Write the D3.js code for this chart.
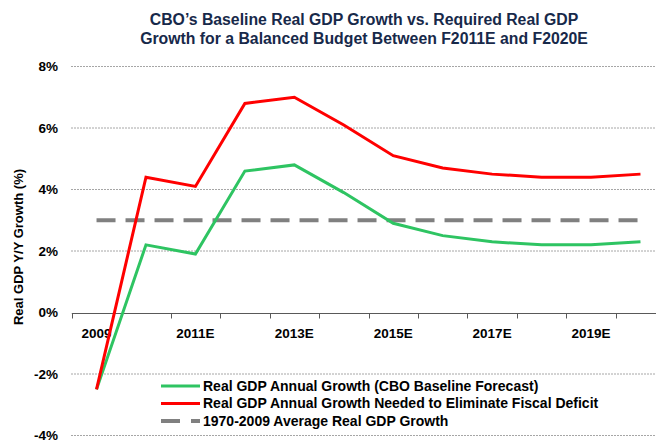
<!DOCTYPE html>
<meta charset="utf-8">
<script src="https://d3js.org/d3.v7.min.js"></script>
<style>
  body { margin: 0; background: #fff; }
  text { font-family: "Liberation Sans", Arial, sans-serif; font-weight: bold; }
</style>
<div id="my_chart"></div>
<script>
// data
var years = ["2009", "2010E", "2011E", "2012E", "2013E", "2014E", "2015E", "2016E", "2017E", "2018E", "2019E", "2020E"];
var cboGrowth = [-2.5, 2.2, 1.9, 4.6, 4.8, 3.9, 2.9, 2.5, 2.3, 2.2, 2.2, 2.3];
var neededGrowth = [-2.5, 4.4, 4.1, 6.8, 7.0, 6.1, 5.1, 4.7, 4.5, 4.4, 4.4, 4.5];
var avgGrowth = 3.0;
var yTicks = [-4, -2, 0, 2, 4, 6, 8];
var xLabels = ["2009", "2011E", "2013E", "2015E", "2017E", "2019E"];
var legendLabels = [
    "Real GDP Annual Growth (CBO Baseline Forecast)",
    "Real GDP Annual Growth Needed to Eliminate Fiscal Deficit",
    "1970-2009 Average Real GDP Growth"
];

var width = 656, height = 441;
var svg = d3.select("#my_chart").append("svg")
    .attr("width", width)
    .attr("height", height);

// scales
var x = d3.scaleBand().domain(years).range([71.8, 665.2]);
var y = d3.scaleLinear().domain([-4, 8]).range([435.5, 66.5]);
var cx = function(d) { return x(d) + x.bandwidth() / 2; };

// title
svg.append("text")
    .attr("x", 364).attr("y", 25)
    .attr("text-anchor", "middle")
    .style("font-size", "15.8px")
    .style("fill", "#17294a")
    .selectAll("tspan")
    .data(["CBO\u2019s Baseline Real GDP Growth vs. Required Real GDP",
           "Growth for a Balanced Budget Between F2011E and F2020E"])
    .join("tspan")
    .attr("x", 364)
    .attr("dy", function(d, i) { return i ? 19 : 0; })
    .text(function(d) { return d; });

// gridlines
svg.append("g")
    .selectAll("line")
    .data(yTicks.filter(function(d) { return d !== 0; }))
    .join("line")
    .attr("x1", 71).attr("x2", width)
    .attr("y1", function(d) { return y(d); })
    .attr("y2", function(d) { return y(d); })
    .attr("stroke", "#a6a6a6")
    .attr("stroke-width", 1)
    .attr("stroke-dasharray", "2,1");

// y axis labels
svg.append("g")
    .selectAll("text")
    .data(yTicks)
    .join("text")
    .attr("x", 58)
    .attr("y", function(d) { return y(d); })
    .attr("dy", "0.35em")
    .attr("text-anchor", "end")
    .style("font-size", "13.5px")
    .text(function(d) { return d + "%"; });

svg.append("text")
    .attr("transform", "translate(23," + 247 + ") rotate(-90)")
    .attr("text-anchor", "middle")
    .style("font-size", "13px")
    .text("Real GDP Y/Y Growth (%)");

// zero axis with category ticks
var zeroY = Math.round(y(0)) + 0.5;
svg.append("line")
    .attr("x1", 71.8).attr("x2", width)
    .attr("y1", zeroY).attr("y2", zeroY)
    .attr("stroke", "#595959").attr("stroke-width", 1);
svg.append("g")
    .selectAll("line")
    .data(years)
    .join("line")
    .attr("x1", function(d) { return Math.round(x(d)) + 0.5; })
    .attr("x2", function(d) { return Math.round(x(d)) + 0.5; })
    .attr("y1", zeroY).attr("y2", zeroY + 5)
    .attr("stroke", "#595959");

svg.append("g")
    .selectAll("text")
    .data(xLabels)
    .join("text")
    .attr("x", function(d) { return cx(d); })
    .attr("y", 338)
    .attr("text-anchor", "middle")
    .style("font-size", "13.5px")
    .text(function(d) { return d; });

// average line
svg.append("line")
    .attr("x1", cx(years[0])).attr("x2", cx(years[years.length - 1]))
    .attr("y1", y(avgGrowth)).attr("y2", y(avgGrowth))
    .attr("stroke", "#808080")
    .attr("stroke-width", 4)
    .attr("stroke-dasharray", "19,10");

var line = function(vals) {
    return d3.line()
        .x(function(d, i) { return cx(years[i]); })
        .y(function(d) { return y(d); })(vals);
};

svg.append("path")
    .attr("d", line(cboGrowth))
    .attr("fill", "none")
    .attr("stroke", "#2ec462")
    .attr("stroke-width", 3);

svg.append("path")
    .attr("d", line(neededGrowth))
    .attr("fill", "none")
    .attr("stroke", "#ff0000")
    .attr("stroke-width", 3);

// legend
var legend = svg.append("g");
var legendRows = [
    {color: "#2ec462", dash: null, w: 3},
    {color: "#ff0000", dash: null, w: 3},
    {color: "#808080", dash: "19,11", w: 4}
];
legendRows.forEach(function(r, i) {
    var ly = 386 + i * 17.5;
    legend.append("rect")
        .attr("x", 158).attr("y", ly - 6).attr("width", 390).attr("height", 12)
        .attr("fill", "#fff");
    legend.append("line")
        .attr("x1", 161).attr("x2", 200)
        .attr("y1", ly).attr("y2", ly)
        .attr("stroke", r.color)
        .attr("stroke-width", r.w)
        .attr("stroke-dasharray", r.dash);
    legend.append("text")
        .attr("x", 203).attr("y", ly)
        .attr("dy", "0.35em")
        .style("font-size", "14px")
        .text(legendLabels[i]);
});
</script>
